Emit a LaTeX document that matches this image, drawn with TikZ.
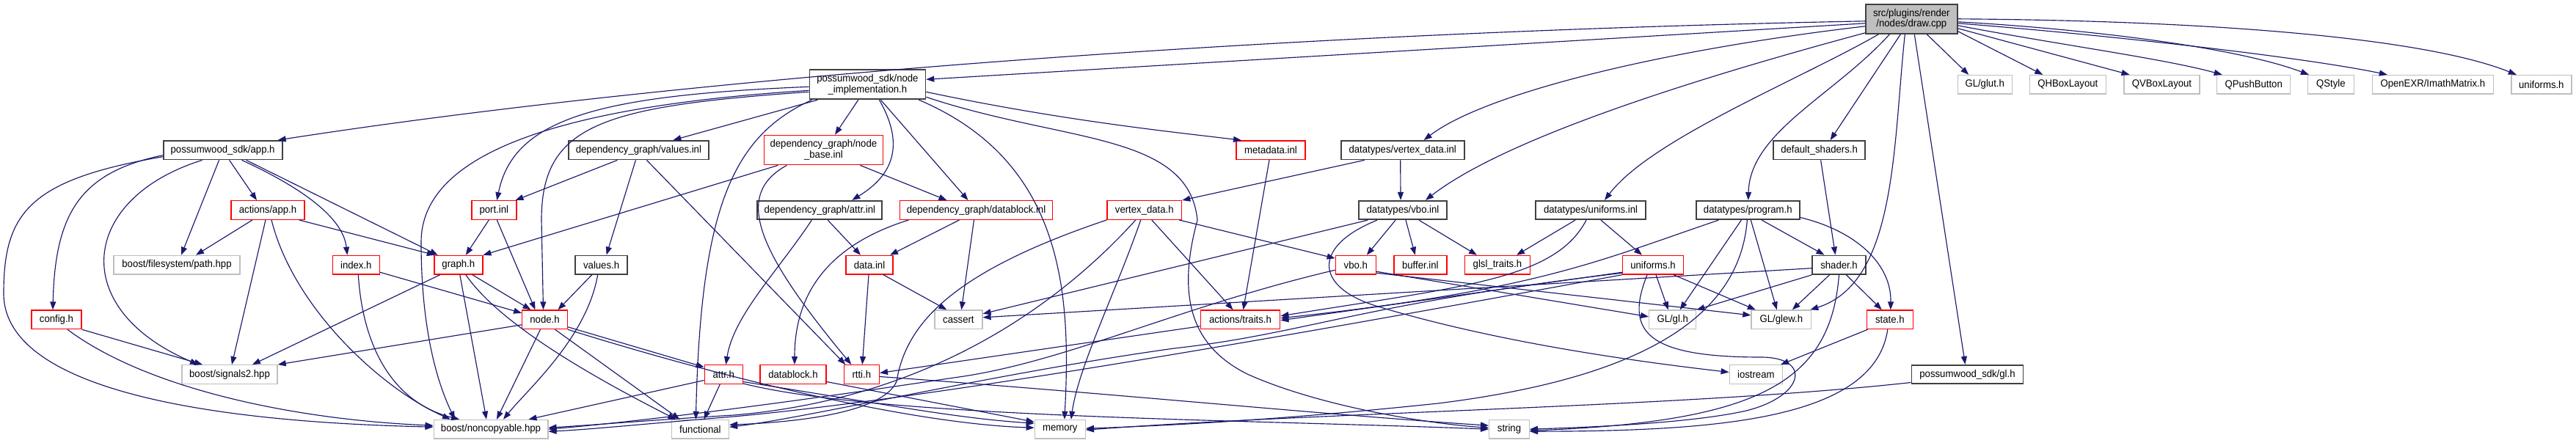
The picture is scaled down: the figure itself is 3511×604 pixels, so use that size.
\documentclass[tikz,border=0pt]{standalone}
\usepackage{fontspec}
\setmainfont{Liberation Sans}[FakeStretch=0.94]
\usetikzlibrary{calc,arrows.meta}
\definecolor{edgec}{HTML}{191970}
\definecolor{gborder}{HTML}{BFBFBF}
\definecolor{kborder}{HTML}{404040}
\definecolor{topfill}{HTML}{BFBFBF}
\newcommand\dfont{\fontsize{14}{14.6}\selectfont}
\tikzset{
 base/.style={draw, line width=1.4pt, minimum height=25.5pt, inner sep=0pt, font=\dfont, fill=white, align=center},
 gb/.style={base, draw=gborder},
 rb/.style={base, draw=red},
 kb/.style={base, draw=kborder, line width=1.8pt},
 e/.style={draw=edgec, line width=1.15pt, -{Triangle[length=11pt,width=8pt]}},
}
\begin{document}
\begin{tikzpicture}[x=1pt,y=-1pt]
\fill[white] (0,0) rectangle (3511,604);
\useasboundingbox (0,0) rectangle (3511,604);
% nodes
\node[kb, fill=topfill, minimum width=125pt, minimum height=40.3pt] (draw) at (2605.3,25.8) {src/plugins/render\\/nodes/draw.cpp};
\node[kb, minimum width=158pt, minimum height=40pt] (nimpl) at (1182.4,115.3) {possumwood\_sdk/node\\\_implementation.h};
\node[gb, minimum width=74pt] (glut) at (2705.2,115.3) {GL/glut.h};
\node[gb, minimum width=104pt] (qhbox) at (2818.3,115.3) {QHBoxLayout};
\node[gb, minimum width=103pt] (qvbox) at (2946.5,115.3) {QVBoxLayout};
\node[gb, minimum width=100pt] (qpush) at (3071.7,115.3) {QPushButton};
\node[gb, minimum width=63pt] (qstyle) at (3176.9,115.3) {QStyle};
\node[gb, minimum width=165pt] (imath) at (3315.8,115.3) {OpenEXR/ImathMatrix.h};
\node[gb, minimum width=82pt] (unifg) at (3463.8,115.3) {uniforms.h};
\node[kb, minimum width=162pt] (app) at (303.6,204.7) {possumwood\_sdk/app.h};
\node[kb, minimum width=191pt] (valinl) at (870.4,204.7) {dependency\_graph/values.inl};
\node[rb, minimum width=162pt, minimum height=40.4pt] (nbase) at (1122.4,204.5) {dependency\_graph/node\\\_base.inl};
\node[rb, minimum width=94pt] (meta) at (1732,204.7) {metadata.inl};
\node[kb, minimum width=168pt] (vdinl) at (1911.7,204.7) {datatypes/vertex\_data.inl};
\node[kb, minimum width=125pt] (defsh) at (2479.6,204.7) {default\_shaders.h};
\node[rb, minimum width=100pt] (actapp) at (365,286.5) {actions/app.h};
\node[rb, minimum width=61pt] (port) at (673.3,286.5) {port.inl};
\node[kb, minimum width=170pt] (attrinl) at (1117.3,286.5) {dependency\_graph/attr.inl};
\node[rb, minimum width=208pt] (dbinl) at (1330.5,286.5) {dependency\_graph/datablock.inl};
\node[rb, minimum width=101.6pt] (vdh) at (1559.8,286.5) {vertex\_data.h};
\node[kb, minimum width=120.5pt] (vboinl) at (1912,286.5) {datatypes/vbo.inl};
\node[kb, minimum width=150pt] (unifinl) at (2168,286.5) {datatypes/uniforms.inl};
\node[kb, minimum width=141pt] (prog) at (2382.3,286.5) {datatypes/program.h};
\node[gb, minimum width=172pt] (path) at (241,361.2) {boost/filesystem/path.hpp};
\node[rb, minimum width=64pt] (index) at (485.3,361.2) {index.h};
\node[rb, minimum width=66pt] (graph) at (624.8,361.2) {graph.h};
\node[kb, minimum width=71pt] (valh) at (819.6,361.2) {values.h};
\node[rb, minimum width=64pt] (datainl) at (1185,361.2) {data.inl};
\node[rb, minimum width=55pt] (vboh) at (1847.8,361.2) {vbo.h};
\node[rb, minimum width=72pt] (buffer) at (1935.8,361.2) {buffer.inl};
\node[rb, minimum width=89.5pt] (glsl) at (2041,361.2) {glsl\_traits.h};
\node[rb, minimum width=82.5pt] (unifh) at (2253,361.2) {uniforms.h};
\node[kb, minimum width=72.5pt] (shader) at (2506.5,361.2) {shader.h};
\node[rb, minimum width=68pt] (config) at (77,435.8) {config.h};
\node[rb, minimum width=61.5pt] (nodeh) at (742.5,435.8) {node.h};
\node[gb, minimum width=65pt] (cassert) at (1306.4,435.8) {cassert};
\node[rb, minimum width=108.4pt] (traits) at (1690.5,435.8) {actions/traits.h};
\node[gb, minimum width=64pt] (glh) at (2279.7,435.8) {GL/gl.h};
\node[gb, minimum width=81.6pt] (glew) at (2427.8,435.8) {GL/glew.h};
\node[rb, minimum width=63pt] (state) at (2575.8,435.8) {state.h};
\node[gb, minimum width=130pt] (sig) at (313,510.5) {boost/signals2.hpp};
\node[rb, minimum width=52pt] (attrh) at (986.3,510.5) {attr.h};
\node[rb, minimum width=90pt] (dbh) at (1081,510.5) {datablock.h};
\node[rb, minimum width=48pt] (rtti) at (1174.3,510.5) {rtti.h};
\node[gb, minimum width=72pt] (iostream) at (2393.3,510.5) {iostream};
\node[kb, minimum width=152pt] (sdkgl) at (2681.5,510.5) {possumwood\_sdk/gl.h};
\node[gb, minimum width=155.6pt] (noncopy) at (669,585.2) {boost/noncopyable.hpp};
\node[gb, minimum width=78pt] (func) at (954.4,585.2) {functional};
\node[gb, minimum width=69pt] (memory) at (1444.8,585.2) {memory};
\node[gb, minimum width=54.6pt] (string) at (2057,585.2) {string};
% edges from draw.cpp
\draw[e] ($(draw.west)+(0,3)$) .. controls (1700,45) and (900,110) .. ($(app.north)+(75,0)$);
\draw[e] ($(draw.west)+(0,6)$) -- ($(nimpl.east)+(0,-7)$);
\draw[e] ($(draw.west)+(0,10)$) .. controls (2250,70) and (2020,130) .. ($(vdinl.north)+(29,0)$);
\draw[e] ($(draw.south west)+(0,-2)$) .. controls (2300,110) and (2050,190) .. ($(vboinl.north)+(31,0)$);
\draw[e] ($(draw.south)+(-45,0)$) .. controls (2450,110) and (2250,190) .. ($(unifinl.north)+(19,0)$);
\draw[e] ($(draw.south)+(-30,0)$) .. controls (2500,130) and (2385,180) .. ($(prog.north)+(0.5,0)$);
\draw[e] ($(draw.south)+(-15,0)$) -- ($(defsh.north)+(15,0)$);
\draw[e] ($(draw.south)+(-9,0)$) .. controls (2580,200) and (2585,385) .. ($(glew.north east)+(-2,0)$);
\draw[e] ($(draw.south)+(4,0)$) -- ($(sdkgl.north)+(-3,0)$);
\draw[e] ($(draw.south)+(21,0)$) -- ($(glut.north)+(-22,0)$);
\draw[e] ($(draw.east)+(0,17)$) -- ($(qhbox.north)+(-34,0)$);
\draw[e] ($(draw.east)+(0,13)$) -- ($(qvbox.north)+(-44,0)$);
\draw[e] ($(draw.east)+(0,9)$) .. controls (2800,60) and (2950,80) .. ($(qpush.north)+(-43,0)$);
\draw[e] ($(draw.east)+(0,4)$) .. controls (2850,40) and (3050,65) .. ($(qstyle.north)+(-30,0)$);
\draw[e] ($(draw.east)+(0,6)$) .. controls (2900,50) and (3150,80) .. ($(imath.north)+(-62,0)$);
\draw[e] ($(draw.east)+(0,0)$) .. controls (3000,28) and (3300,50) .. ($(unifg.north)+(-34,0)$);
% node_implementation
\draw[e] ($(nimpl.south west)+(12,0)$) -- ($(valinl.north)+(47,0)$);
\draw[e] ($(nimpl.south)+(-12.6,0)$) -- ($(nbase.north)+(15.6,0)$);
\draw[e] ($(nimpl.south)+(16,0)$) .. controls (1235,200) and (1215,240) .. ($(attrinl.north)+(44,0)$);
\draw[e] ($(nimpl.south)+(18,0)$) -- ($(dbinl.north)+(-11,0)$);
\draw[e] ($(nimpl.east)+(0,10)$) .. controls (1450,165) and (1600,180) .. ($(meta.north)+(-40,0)$);
\draw[e] ($(nimpl.south east)+(-10,0)$) .. controls (1450,220) and (1460,400) .. ($(memory.north)+(6,0)$);
\draw[e] ($(nimpl.east)+(0,17)$) .. controls (1450,195) and (1620,180) .. (1632,300) .. controls (1605,400) and (1620,470) .. (1700,510) .. controls (1800,555) and (1950,578) .. ($(string.west)+(0,-2)$);
\draw[e] ($(nimpl.south west)+(4,0)$) .. controls (1000,185) and (955,280) .. ($(func.north)+(-6,0)$);
\draw[e] ($(nimpl.west)+(0,3)$) .. controls (820,130) and (700,160) .. ($(port.north)+(4,0)$);
\draw[e] ($(nimpl.west)+(0,8)$) .. controls (760,145) and (574,210) .. (574,330) .. controls (574,460) and (600,530) .. ($(noncopy.north)+(-49,0)$);
\draw[e] ($(nimpl.west)+(0,10)$) .. controls (820,145) and (738,170) .. (738,300) -- ($(nodeh.north)+(-2,0)$);
% app.h
\draw[e] ($(app.west)+(0,9)$) .. controls (40,245) and (5,290) .. (5,400) .. controls (5,560) and (420,578) .. ($(noncopy.west)+(0,-3)$);
\draw[e] ($(app.west)+(0,7)$) .. controls (110,235) and (75,290) .. ($(config.north)+(-5,0)$);
\draw[e] ($(app.south)+(-28,0)$) .. controls (110,270) and (90,420) .. ($(sig.north)+(-43,0)$);
\draw[e] ($(app.south)+(-5,0)$) -- ($(path.north)+(6,0)$);
\draw[e] ($(app.south)+(9,0)$) -- ($(actapp.north)+(-15,0)$);
\draw[e] ($(app.south)+(26,0)$) .. controls (420,260) and (468,300) .. ($(index.north)+(-12,0)$);
\draw[e] ($(app.south)+(32,0)$) -- ($(graph.north)+(-28,0)$);
% actions/app.h
\draw[e] ($(actapp.south)+(-21,0)$) -- ($(path.north)+(26,0)$);
\draw[e] ($(actapp.south)+(-3,0)$) -- ($(sig.north)+(3,0)$);
\draw[e] ($(actapp.south)+(5,0)$) .. controls (400,420) and (520,530) .. ($(noncopy.north)+(-55,0)$);
\draw[e] ($(actapp.south east)+(-8,0)$) -- ($(graph.north)+(-32,0)$);
% port.inl
\draw[e] ($(port.south)+(-7,0)$) -- ($(graph.north)+(10,0)$);
\draw[e] ($(port.south)+(4,0)$) -- ($(nodeh.north)+(-13,0)$);
% values.inl
\draw[e] ($(valinl.south)+(-29,0)$) -- ($(port.north east)+(-2,0)$);
\draw[e] ($(valinl.south)+(-4,0)$) -- ($(valh.north)+(7,0)$);
\draw[e] ($(valinl.south)+(11,0)$) -- ($(rtti.north)+(-22,0)$);
% node_base.inl
\draw[e] ($(nbase.south)+(-62,0)$) -- (graph.north east);
\draw[e] ($(nbase.south)+(-50,0)$) .. controls (1000,265) and (1030,340) .. ($(rtti.north)+(-14,0)$);
\draw[e] ($(nbase.south)+(50,0)$) -- ($(dbinl.north)+(-40,0)$);
% metadata
\draw[e] ($(meta.south)+(-2,0)$) -- ($(traits.north)+(4,0)$);
% attr.inl
\draw[e] ($(attrinl.south)+(-11,0)$) .. controls (1060,370) and (1000,430) .. ($(attrh.north)+(3,0)$);
\draw[e] ($(attrinl.south)+(11,0)$) -- ($(datainl.north)+(-12,0)$);
% datablock.inl
\draw[e] ($(dbinl.south)+(-92,0)$) .. controls (1110,340) and (1083,420) .. ($(dbh.north)+(2,0)$);
\draw[e] ($(dbinl.south)+(-23,0)$) -- ($(datainl.north)+(28,0)$);
\draw[e] ($(dbinl.south)+(-3,0)$) -- ($(cassert.north)+(4,0)$);
% data.inl
\draw[e] ($(datainl.south)+(-1,0)$) -- ($(rtti.north)+(1,0)$);
\draw[e] ($(datainl.south)+(19,0)$) -- ($(cassert.north)+(-16,0)$);
% vertex_data.inl
\draw[e] ($(vdinl.south)+(-52,0)$) -- (vdh.north east);
\draw[e] ($(vdinl.south)+(-3,0)$) -- ($(vboinl.north)+(-3,0)$);
% vertex_data.h
\draw[e] (vdh.south west) .. controls (1300,370) and (1235,440) .. (1222,520) .. controls (1205,560) and (1100,575) .. ($(func.east)+(0,-6)$);
\draw[e] ($(vdh.south)+(-12,0)$) .. controls (1430,430) and (1250,545) .. (1000,566) .. controls (900,572) and (800,580) .. ($(noncopy.east)+(0,-2)$);
\draw[e] ($(vdh.south)+(-5,0)$) .. controls (1520,400) and (1470,500) .. ($(memory.north)+(15,0)$);
\draw[e] ($(vdh.south)+(10,0)$) -- ($(traits.north)+(-10,0)$);
\draw[e] ($(vdh.south east)+(-4,0)$) -- ($(vboh.west)+(0,-9)$);
% vbo.inl
\draw[e] ($(vboinl.south)+(-48,0)$) -- ($(cassert.east)+(0,-8)$);
\draw[e] ($(vboinl.south)+(-35,0)$) .. controls (1790,335) and (1790,390) .. (1875,417) .. controls (2050,470) and (2250,495) .. ($(iostream.west)+(0,-3)$);
\draw[e] ($(vboinl.south)+(-10,0)$) -- ($(vboh.north)+(15,0)$);
\draw[e] ($(vboinl.south)+(4,0)$) -- ($(buffer.north)+(-7,0)$);
\draw[e] ($(vboinl.south)+(22,0)$) -- ($(glsl.north)+(-28,0)$);
% uniforms.inl
\draw[e] ($(unifinl.south)+(-21,0)$) -- ($(glsl.north)+(26,0)$);
\draw[e] ($(unifinl.south)+(-6,0)$) .. controls (2120,380) and (2000,390) .. ($(traits.east)+(0,-5)$);
\draw[e] ($(unifinl.south)+(14,0)$) -- ($(unifh.north)+(-15,0)$);
% program.h
\draw[e] ($(prog.south)+(-40,0)$) .. controls (2180,355) and (2100,395) .. ($(traits.east)+(0,-2)$);
\draw[e] ($(prog.south)+(-9,0)$) -- ($(glh.north)+(10,0)$);
\draw[e] ($(prog.south)+(-1,0)$) .. controls (2370,450) and (2200,520) .. (1960,550) .. controls (1750,572) and (1600,580) .. ($(memory.east)+(0,-1)$);
\draw[e] ($(prog.south)+(4,0)$) -- ($(glew.north)+(-6,0)$);
\draw[e] ($(prog.south)+(19,0)$) -- ($(shader.north)+(-20,0)$);
\draw[e] ($(prog.east)+(0,10)$) .. controls (2530,315) and (2578,360) .. ($(state.north)+(1,0)$);
% default_shaders
\draw[e] ($(defsh.south)+(2,0)$) -- ($(shader.north)+(-5,0)$);
% vbo.h
\draw[e] ($(vboh.east)+(0,9)$) -- ($(glh.west)+(0,-4)$);
\draw[e] ($(vboh.east)+(0,11)$) -- ($(glew.west)+(0,-6)$);
\draw[e] ($(vboh.west)+(0,7)$) .. controls (1600,420) and (1450,495) .. (1300,515) .. controls (1100,545) and (900,572) .. (noncopy.east);
% uniforms.h
\draw[e] ($(unifh.west)+(0,10)$) -- ($(traits.east)+(0,1)$);
\draw[e] ($(unifh.west)+(0,11)$) .. controls (1850,415) and (1780,455) .. (1600,475) .. controls (1350,510) and (1100,570) .. ($(func.east)+(0,-3)$);
\draw[e] (unifh.south west) .. controls (1800,450) and (1300,540) .. (1000,568) .. controls (900,576) and (800,586) .. ($(noncopy.east)+(0,3)$);
\draw[e] ($(unifh.south)+(-8,0)$) .. controls (2215,450) and (2240,487) .. (2400,487) .. controls (2470,487) and (2460,540) .. (2380,560) .. controls (2300,578) and (2150,583) .. (string.east);
\draw[e] ($(unifh.south)+(4,0)$) -- ($(glh.north)+(-6,0)$);
\draw[e] ($(unifh.south east)+(-14,0)$) -- ($(glew.north)+(-35,0)$);
% shader.h
\draw[e] ($(shader.west)+(0,4.5)$) -- ($(cassert.east)+(0,-3)$);
\draw[e] (shader.south west) -- (glh.north east);
\draw[e] ($(shader.south)+(-13,0)$) -- ($(glew.north)+(15,0)$);
\draw[e] ($(shader.south)+(10,0)$) -- ($(state.north)+(-11,0)$);
\draw[e] (shader.south) .. controls (2495,520) and (2400,575) .. ($(string.east)+(0,2)$);
% state.h
\draw[e] ($(state.south west)+(2,0)$) -- ($(iostream.north east)+(-3,0)$);
\draw[e] ($(state.south)+(-3,0)$) .. controls (2555,570) and (2350,588) .. ($(string.east)+(0,3)$);
% possumwood_sdk/gl.h
\draw[e] ($(sdkgl.west)+(0,11)$) .. controls (2300,555) and (1800,562) .. ($(memory.east)+(0,1)$);
% traits
\draw[e] ($(traits.west)+(0,9)$) -- ($(rtti.east)+(0,-2)$);
% index.h
\draw[e] ($(index.east)+(0,10)$) -- ($(nodeh.west)+(0,-9)$);
\draw[e] ($(index.south)+(3,0)$) .. controls (495,480) and (540,550) .. ($(noncopy.north)+(-43,0)$);
% graph.h
\draw[e] ($(graph.south)+(-25,0)$) -- ($(sig.north)+(31,0)$);
\draw[e] ($(graph.south)+(2,0)$) -- ($(noncopy.north)+(-6,0)$);
\draw[e] ($(graph.south)+(19,0)$) -- ($(nodeh.north)+(-19,0)$);
\draw[e] ($(graph.south)+(10,0)$) .. controls (680,440) and (800,510) .. ($(func.north)+(-33,0)$);
% values.h
\draw[e] ($(valh.south)+(-13,0)$) -- ($(nodeh.north)+(18,0)$);
\draw[e] ($(valh.south)+(-5,0)$) .. controls (800,460) and (720,530) .. ($(noncopy.north)+(17,0)$);
% config.h
\draw[e] (config.south east) -- ($(sig.north)+(-37,0)$);
\draw[e] ($(config.south)+(15,0)$) .. controls (200,530) and (400,572) .. ($(noncopy.west)+(0,-5)$);
% node.h
\draw[e] ($(nodeh.west)+(0,7)$) -- (sig.north east);
\draw[e] ($(nodeh.south)+(-6,0)$) -- ($(noncopy.north)+(8,0)$);
\draw[e] ($(nodeh.east)+(0,10)$) -- ($(attrh.west)+(0,-10)$);
\draw[e] ($(nodeh.south)+(14,0)$) -- ($(func.north)+(-28,0)$);
\draw[e] (nodeh.south east) .. controls (1000,520) and (1250,578) .. ($(memory.west)+(0,-2)$);
% attr.h
\draw[e] ($(attrh.west)+(0,8)$) -- ($(noncopy.north east)+(-27,0)$);
\draw[e] ($(attrh.south)+(-5,0)$) -- ($(func.north)+(5,0)$);
\draw[e] ($(attrh.east)+(0,10)$) .. controls (1200,550) and (1300,570) .. ($(memory.west)+(0,-8)$);
\draw[e] ($(attrh.south east)+(0,-1)$) .. controls (1200,570) and (1700,572) .. (string.west);
% datablock.h
\draw[e] ($(dbh.east)+(0,10)$) -- ($(memory.west)+(0,-10)$);
% rtti.h
\draw[e] ($(rtti.east)+(0,3)$) .. controls (1500,535) and (1800,565) .. ($(string.west)+(0,-5)$);
\end{tikzpicture}
\end{document}
